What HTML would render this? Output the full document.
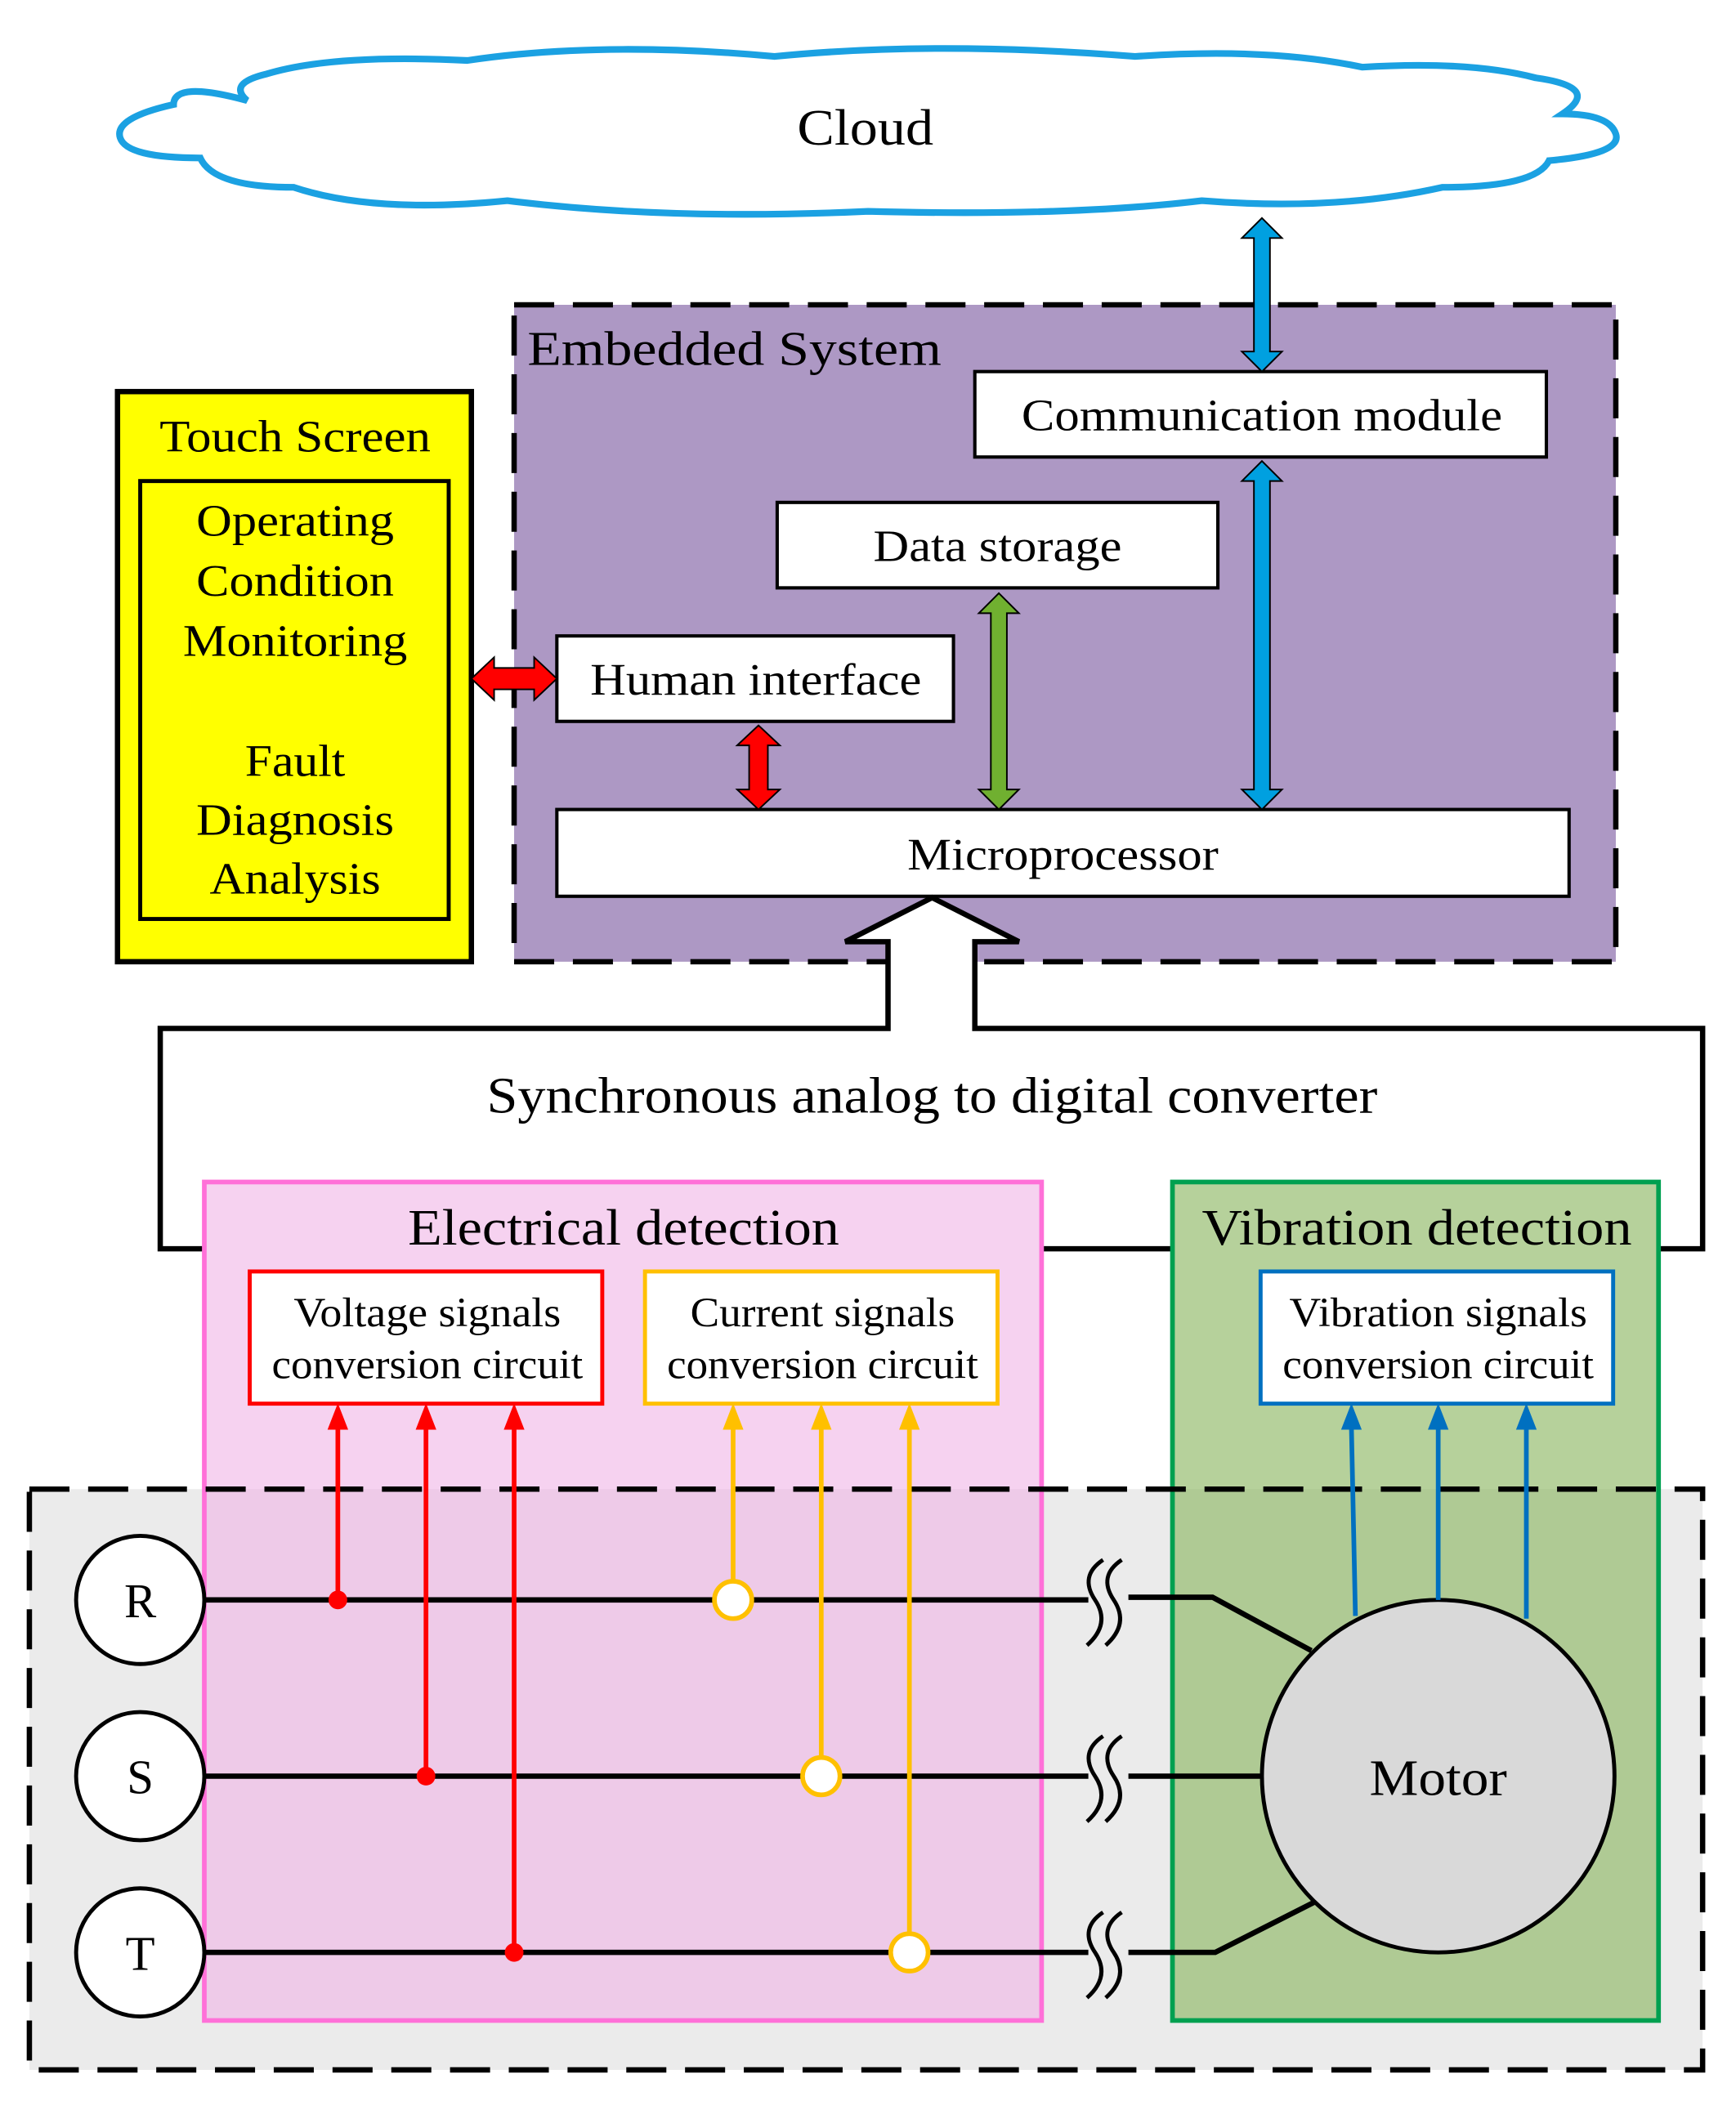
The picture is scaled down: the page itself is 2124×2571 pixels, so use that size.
<!DOCTYPE html>
<html><head><meta charset="utf-8"><style>
html,body{margin:0;padding:0;background:#fff}
svg{display:block}
text{font-family:"Liberation Serif",serif;fill:#000}
</style></head><body>
<svg width="2124" height="2571" viewBox="0 0 1300 1573" xmlns="http://www.w3.org/2000/svg">
<!-- Cloud -->
<path d="M185,75 Q130,60 130,78 Q85,88 90,103 Q95,118 150,118 Q160,140 220,140 Q280,160 380,150 Q500,165 650,158 Q800,162 900,150 Q1000,158 1080,140 Q1150,140 1160,120 Q1215,115 1210,100 Q1205,85 1170,85 Q1200,65 1150,58 Q1100,45 1020,50 Q950,35 850,42 Q700,30 580,42 Q450,30 350,45 Q250,40 200,55 Q170,62 185,75 Z" fill="#fff" stroke="#1ba1e2" stroke-width="5"/>
<text x="648" y="108" font-size="38" text-anchor="middle" textLength="102" lengthAdjust="spacingAndGlyphs">Cloud</text>

<!-- Embedded system -->
<rect x="385" y="228" width="825" height="492" fill="#ad98c4" stroke="#000" stroke-width="4" stroke-dasharray="30,14"/>
<text x="395" y="273" font-size="36" textLength="310" lengthAdjust="spacingAndGlyphs">Embedded System</text>
<rect x="730" y="278" width="428" height="64" fill="#fff" stroke="#000" stroke-width="2.5"/>
<text x="945" y="322" font-size="34" text-anchor="middle" textLength="360" lengthAdjust="spacingAndGlyphs">Communication module</text>
<rect x="582" y="376" width="330" height="64" fill="#fff" stroke="#000" stroke-width="2.5"/>
<text x="747" y="420" font-size="34" text-anchor="middle" textLength="186" lengthAdjust="spacingAndGlyphs">Data storage</text>
<rect x="417" y="476" width="297" height="64" fill="#fff" stroke="#000" stroke-width="2.5"/>
<text x="566" y="520" font-size="34" text-anchor="middle" textLength="248" lengthAdjust="spacingAndGlyphs">Human interface</text>
<rect x="417" y="606" width="758" height="65" fill="#fff" stroke="#000" stroke-width="2.5"/>
<text x="796" y="651" font-size="34" text-anchor="middle" textLength="233" lengthAdjust="spacingAndGlyphs">Microprocessor</text>

<!-- Touch screen -->
<rect x="88" y="293" width="265" height="427" fill="#ffff00" stroke="#000" stroke-width="4"/>
<text x="221" y="338" font-size="34" text-anchor="middle" textLength="203" lengthAdjust="spacingAndGlyphs">Touch Screen</text>
<rect x="105" y="360" width="231" height="328" fill="#ffff00" stroke="#000" stroke-width="3"/>
<g font-size="34" text-anchor="middle">
<text x="221" y="401" textLength="148" lengthAdjust="spacingAndGlyphs">Operating</text>
<text x="221" y="446" textLength="148" lengthAdjust="spacingAndGlyphs">Condition</text>
<text x="221" y="491" textLength="168" lengthAdjust="spacingAndGlyphs">Monitoring</text>
<text x="221" y="581" textLength="75" lengthAdjust="spacingAndGlyphs">Fault</text>
<text x="221" y="625" textLength="148" lengthAdjust="spacingAndGlyphs">Diagnosis</text>
<text x="221" y="669" textLength="128" lengthAdjust="spacingAndGlyphs">Analysis</text>
</g>

<!-- double arrows -->
<g stroke="#000" stroke-width="1.2">
<polygon fill="#00a0e0" points="945,163 960,178 951,178 951,263 960,263 945,278 930,263 939,263 939,178 930,178"/>
<polygon fill="#00a0e0" points="945,345 960,360 951,360 951,591 960,591 945,606 930,591 939,591 939,360 930,360"/>
<polygon fill="#70b030" points="748,444 763,459 754,459 754,591 763,591 748,606 733,591 742,591 742,459 733,459"/>
<polygon fill="#ff0000" points="568,543 584,558 575,558 575,591 584,591 568,606 552,591 561,591 561,558 552,558"/>
<polygon fill="#ff0000" points="353,508 370,492 370,500 400,500 400,492 417,508 400,524 400,516 370,516 370,524"/>
</g>

<!-- Gray dashed area fill -->
<rect x="22" y="1115" width="1253" height="435" fill="#ebebeb"/>

<!-- ADC outline -->
<polygon points="698,672 763,705 730,705 730,770 1275,770 1275,935 120,935 120,770 665,770 665,705 633,705" fill="#fff" stroke="none"/>
<polyline points="153,935 120,935 120,770 665,770 665,705 633,705 698,672 763,705 730,705 730,770 1275,770 1275,935 1242,935" fill="none" stroke="#000" stroke-width="4"/>
<line x1="780" y1="935" x2="878" y2="935" stroke="#000" stroke-width="4"/>
<text x="698" y="833" font-size="38" text-anchor="middle" textLength="667" lengthAdjust="spacingAndGlyphs">Synchronous analog to digital converter</text>

<!-- Electrical detection -->
<rect x="153" y="885" width="627" height="628" fill="#f0b4e6" fill-opacity="0.6" stroke="#ff70d8" stroke-width="3.5"/>
<text x="467" y="932" font-size="38" text-anchor="middle" textLength="323" lengthAdjust="spacingAndGlyphs">Electrical detection</text>
<!-- Vibration detection -->
<rect x="878" y="885" width="364" height="628" fill="#8fb866" fill-opacity="0.65" stroke="#00a050" stroke-width="3.5"/>
<text x="1061" y="932" font-size="38" text-anchor="middle" textLength="322" lengthAdjust="spacingAndGlyphs">Vibration detection</text>

<rect x="187" y="952" width="264" height="99" fill="#fff" stroke="#ff0000" stroke-width="3"/>
<text x="320" y="993" font-size="31" text-anchor="middle" textLength="200" lengthAdjust="spacingAndGlyphs">Voltage signals</text>
<text x="320" y="1032" font-size="31" text-anchor="middle" textLength="233" lengthAdjust="spacingAndGlyphs">conversion circuit</text>
<rect x="483" y="952" width="264" height="99" fill="#fff" stroke="#ffc000" stroke-width="3"/>
<text x="616" y="993" font-size="31" text-anchor="middle" textLength="198" lengthAdjust="spacingAndGlyphs">Current signals</text>
<text x="616" y="1032" font-size="31" text-anchor="middle" textLength="233" lengthAdjust="spacingAndGlyphs">conversion circuit</text>
<rect x="944" y="952" width="264" height="99" fill="#fff" stroke="#0070c0" stroke-width="3"/>
<text x="1077" y="993" font-size="31" text-anchor="middle" textLength="223" lengthAdjust="spacingAndGlyphs">Vibration signals</text>
<text x="1077" y="1032" font-size="31" text-anchor="middle" textLength="233" lengthAdjust="spacingAndGlyphs">conversion circuit</text>

<!-- dashed border of gray area -->
<rect x="22" y="1115" width="1253" height="435" fill="none" stroke="#000" stroke-width="4" stroke-dasharray="30,14"/>

<!-- phase lines -->
<g stroke="#000" stroke-width="4" fill="none">
<line x1="153" y1="1198" x2="815" y2="1198"/>
<line x1="153" y1="1330" x2="815" y2="1330"/>
<line x1="153" y1="1462" x2="815" y2="1462"/>
<polyline points="845,1196 908,1196 982,1236"/>
<line x1="845" y1="1330" x2="945" y2="1330"/>
<polyline points="845,1462 910,1462 985,1424"/>
</g>
<!-- squiggles -->
<g stroke="#000" stroke-width="3" fill="none">
<path d="M826,1168 Q808,1180 820,1198 Q832,1216 814,1232"/>
<path d="M840,1168 Q822,1180 834,1198 Q846,1216 828,1232"/>
<path d="M826,1300 Q808,1312 820,1330 Q832,1348 814,1364"/>
<path d="M840,1300 Q822,1312 834,1330 Q846,1348 828,1364"/>
<path d="M826,1432 Q808,1444 820,1462 Q832,1480 814,1496"/>
<path d="M840,1432 Q822,1444 834,1462 Q846,1480 828,1496"/>
</g>

<!-- RST -->
<g stroke="#000" stroke-width="3" fill="#fff">
<circle cx="105" cy="1198" r="48"/>
<circle cx="105" cy="1330" r="48"/>
<circle cx="105" cy="1462" r="48"/>
</g>
<g font-size="36" text-anchor="middle">
<text x="105" y="1211">R</text>
<text x="105" y="1343">S</text>
<text x="105" y="1475">T</text>
</g>

<!-- Motor -->
<circle cx="1077" cy="1330" r="132" fill="#d9d9d9" stroke="#000" stroke-width="3"/>
<text x="1077" y="1344" font-size="38" text-anchor="middle" textLength="103" lengthAdjust="spacingAndGlyphs">Motor</text>

<!-- red voltage taps -->
<g stroke="#ff0000" stroke-width="3.5" fill="#ff0000">
<line x1="253" y1="1198" x2="253" y2="1068"/>
<line x1="319" y1="1330" x2="319" y2="1068"/>
<line x1="385" y1="1462" x2="385" y2="1068"/>
<polygon points="253,1052 246,1070 260,1070" stroke-width="1"/>
<polygon points="319,1052 312,1070 326,1070" stroke-width="1"/>
<polygon points="385,1052 378,1070 392,1070" stroke-width="1"/>
<circle cx="253" cy="1198" r="7" stroke="none"/>
<circle cx="319" cy="1330" r="7" stroke="none"/>
<circle cx="385" cy="1462" r="7" stroke="none"/>
</g>

<!-- orange current taps -->
<g stroke="#ffc000" stroke-width="3.5" fill="#ffc000">
<line x1="549" y1="1184" x2="549" y2="1068"/>
<line x1="615" y1="1316" x2="615" y2="1068"/>
<line x1="681" y1="1448" x2="681" y2="1068"/>
<polygon points="549,1052 542,1070 556,1070" stroke-width="1"/>
<polygon points="615,1052 608,1070 622,1070" stroke-width="1"/>
<polygon points="681,1052 674,1070 688,1070" stroke-width="1"/>
<circle cx="549" cy="1198" r="14" fill="#fff"/>
<circle cx="615" cy="1330" r="14" fill="#fff"/>
<circle cx="681" cy="1462" r="14" fill="#fff"/>
</g>

<!-- blue vibration arrows -->
<g stroke="#0070c0" stroke-width="3.5" fill="#0070c0">
<line x1="1015" y1="1210" x2="1012" y2="1068"/>
<line x1="1077" y1="1198" x2="1077" y2="1068"/>
<line x1="1143" y1="1212" x2="1143" y2="1068"/>
<polygon points="1012,1052 1005,1070 1019,1070" stroke-width="1"/>
<polygon points="1077,1052 1070,1070 1084,1070" stroke-width="1"/>
<polygon points="1143,1052 1136,1070 1150,1070" stroke-width="1"/>
</g>
</svg>
</body></html>
